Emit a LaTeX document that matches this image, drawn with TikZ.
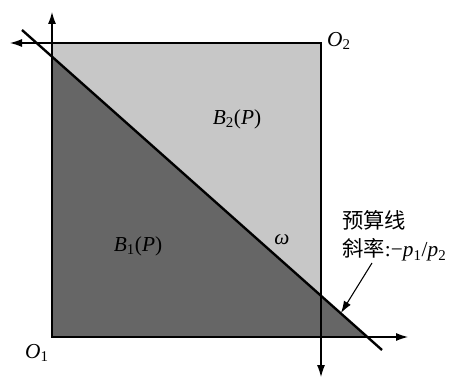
\documentclass[tikz,border=0pt]{standalone}
\usepackage{fontspec}
\setmainfont{Liberation Serif}
\newfontfamily\cjk{Noto Sans CJK SC}
\usetikzlibrary{arrows.meta}
\newcommand{\iv}[2]{\textit{#1}\textsubscript{#2}}

\begin{document}
\begin{tikzpicture}[x=0.75pt, y=-0.75pt, >={Latex[length=9pt,width=6pt]},
  axis/.style={->, line width=0.8pt},
  budget/.style={line width=1.8pt},
  lbl/.style={font=\fontsize{16}{21}\selectfont, inner sep=0pt}
]
  \useasboundingbox (0,0) rectangle (450,381);
  % corners and axis ends
  \coordinate (O1) at (52,337);
  \coordinate (O2) at (321,43);
  \coordinate (y1) at (52,12);
  \coordinate (x1) at (408,337);
  \coordinate (x2) at (10,43);
  \coordinate (y2) at (321,377);
  \coordinate (bl) at (22,30);
  \coordinate (br) at (382,350);
  \coordinate (bh) at (52,56.7);
  \coordinate (bb) at (367,337);
  % regions
  \fill[black!22] (O1) rectangle (O2);
  \fill[black!60] (bh) -- (bb) -- (O1) -- cycle;
  \draw[line width=1pt] (O1) rectangle (O2);
  % axes
  \draw[axis] (O1) -- (y1);
  \draw[axis] (O1) -- (x1);
  \draw[axis] (O2) -- (x2);
  \draw[axis] (O2) -- (y2);
  \draw[budget] (bl) -- (br);
  % labels
  \node[lbl] (o1) at (37,353) {\iv{O}{1}};
  \node[lbl] (o2) at (339,41) {\iv{O}{2}};
  \node[lbl] (b2) at (237,119) {\iv{B}{2}(\textit{P})};
  \node[lbl] (b1) at (138,246) {\iv{B}{1}(\textit{P})};
  \node[lbl] (w) at (282,240) {\textit{ω}};
  \node[lbl, anchor=west, align=left] (note) at (342,236)
    {{\cjk 预算线}\\{\cjk 斜率}:−\iv{p}{1}/\iv{p}{2}};
  \coordinate (ns) at (372,263);
  \coordinate (nt) at (341,313);
  \draw[->, line width=0.8pt] (ns) -- (nt);
\end{tikzpicture}
\end{document}
